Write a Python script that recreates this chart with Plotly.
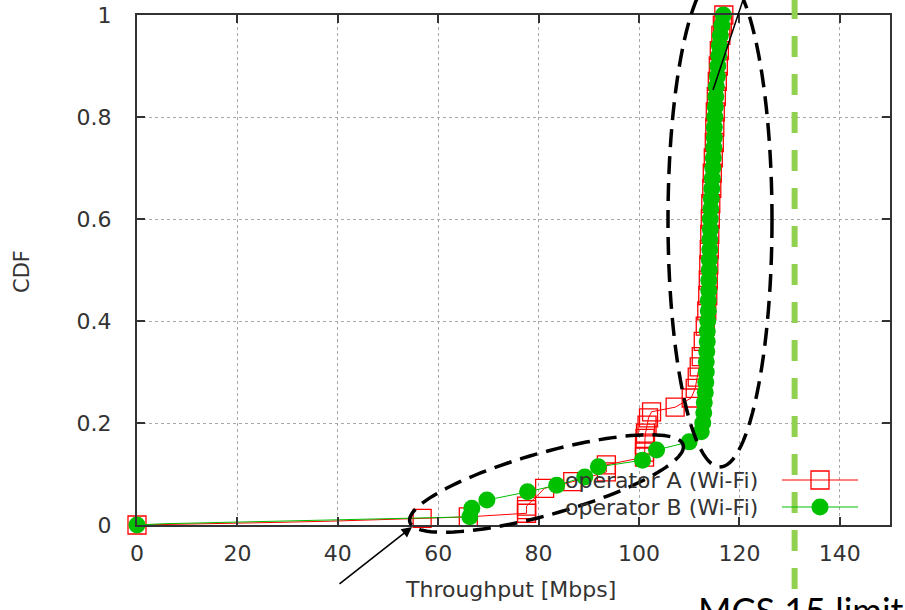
import numpy as np
import plotly.graph_objects as go

# ---------------- data ----------------
a_thr = [0, 16.6, 27.5, 38.5, 49.8, 56.8, 66.0, 77.6, 77.6, 77.6, 81.2, 86.8, 93.5, 93.5,
         101.1, 101.1, 101.1, 101.2, 101.3, 101.6, 101.9, 102.5, 107.2, 110.4,
         111.2, 111.6, 112.0, 112.4, 112.8, 113.2, 113.5, 113.7, 113.8, 113.9, 114.0, 114.1,
         114.2, 114.3, 114.5, 114.6, 114.8, 115.0, 115.1, 115.2, 115.4, 115.6, 115.8, 116.0,
         116.3, 116.6, 116.9]
a_cdf = [0, 0.0025, 0.005, 0.0075, 0.01, 0.013, 0.016, 0.023, 0.030, 0.037, 0.072, 0.085, 0.104, 0.118,
         0.133, 0.143, 0.157, 0.170, 0.180, 0.196, 0.210, 0.222, 0.231, 0.249,
         0.268, 0.29, 0.31, 0.33, 0.36, 0.39, 0.42, 0.45, 0.48, 0.51, 0.54, 0.57,
         0.60, 0.63, 0.66, 0.69, 0.72, 0.75, 0.78, 0.81, 0.84, 0.87, 0.90, 0.93,
         0.96, 0.98, 1.0]

b_thr = [0, 5.3, 16.6, 27.5, 38.5, 49.8, 66.3, 66.7, 69.7, 77.8, 83.6, 89.2, 91.9, 100.7,
         103.5, 110.0, 112.4, 112.7, 112.9, 113.0, 113.2, 113.3, 113.4, 113.4, 113.5, 113.6,
         113.6, 113.7, 113.8, 113.8, 113.9, 113.9, 114.0, 114.0, 114.1, 114.1, 114.2, 114.2,
         114.3, 114.4, 114.5, 114.6, 114.7, 114.8, 114.9, 115.0, 115.0, 115.1, 115.2, 115.3,
         115.4, 115.6, 115.7, 115.9, 116.0, 116.2, 116.5, 116.8]
b_cdf = [0, 0.0025, 0.005, 0.0075, 0.01, 0.0125, 0.016, 0.033, 0.049, 0.065, 0.078, 0.094, 0.114, 0.127,
         0.147, 0.163, 0.183, 0.20, 0.22, 0.24, 0.26, 0.28, 0.30, 0.32, 0.34, 0.36,
         0.38, 0.40, 0.42, 0.44, 0.46, 0.48, 0.50, 0.52, 0.54, 0.56, 0.58, 0.60,
         0.62, 0.64, 0.66, 0.68, 0.70, 0.72, 0.74, 0.76, 0.78, 0.80, 0.82, 0.84,
         0.86, 0.88, 0.90, 0.92, 0.94, 0.96, 0.98, 1.0]

series_names = ["operator A (Wi-Fi)", "operator B (Wi-Fi)"]
x_ticks = [0, 20, 40, 60, 80, 100, 120, 140]
y_ticks = [0, 0.2, 0.4, 0.6, 0.8, 1]
y_tick_labels = ["0", "0.2", "0.4", "0.6", "0.8", "1"]
x_title = "Throughput [Mbps]"
y_title = "CDF"
mcs15_limit = 131
mcs15_label = "MCS 15 limit"

# ---------------- layout geometry ----------------
W, H = 905, 610
L, R, T, B = 137, 890, 15, 525
X_MAX = 150

RED = "#ff0000"
GREEN = "#00c000"
TXT = "#333333"
FONT = "DejaVu Sans"


def pp(px, py):
    """pixel -> paper"""
    return (px - L) / (R - L), (B - py) / (B - T)


def ellipse_path(cx, cy, a, b, ang_deg, n=120):
    t = np.linspace(0, 2 * np.pi, n)
    ang = np.deg2rad(ang_deg)
    xs = cx + a * np.cos(t) * np.cos(ang) - b * np.sin(t) * np.sin(ang)
    ys = cy + a * np.cos(t) * np.sin(ang) + b * np.sin(t) * np.cos(ang)
    pts = [pp(x, y) for x, y in zip(xs, ys)]
    return "M " + " L ".join(f"{x:.5f},{y:.5f}" for x, y in pts) + " Z"


def marker_sizes(xs, size):
    xs = np.asarray(xs)
    return np.where((xs == 0) | (xs > 55), size, 0).tolist()


fig = go.Figure()
fig.add_trace(go.Scatter(
    x=a_thr, y=a_cdf, mode="lines+markers", name=series_names[0],
    line=dict(color=RED, width=1),
    marker=dict(symbol="square-open", size=marker_sizes(a_thr, 18), color=RED, opacity=1,
                line=dict(color=RED, width=1.3)),
    cliponaxis=False, showlegend=False))
fig.add_trace(go.Scatter(
    x=b_thr, y=b_cdf, mode="lines+markers", name=series_names[1],
    line=dict(color=GREEN, width=1),
    marker=dict(symbol="circle", size=marker_sizes(b_thr, 17), color=GREEN, opacity=1,
                line=dict(width=0)),
    cliponaxis=False, showlegend=False))

shapes = []
annotations = []

# MCS 15 limit line
xg = mcs15_limit / X_MAX
shapes.append(dict(type="line", xref="paper", yref="paper",
                   x0=xg, x1=xg, y0=pp(0, -2)[1], y1=pp(0, 590)[1],
                   line=dict(color="#92d050", width=6, dash="21px,17px")))

# dashed ellipses
shapes.append(dict(type="path", xref="paper", yref="paper",
                   path=ellipse_path(720, 220, 52, 247, 0),
                   line=dict(color="black", width=3.5, dash="18px,9px")))
shapes.append(dict(type="path", xref="paper", yref="paper",
                   path=ellipse_path(546.5, 483.5, 142, 31, -15.75),
                   line=dict(color="black", width=3.5, dash="18px,9px")))

# thin line at top
x0, y0 = pp(713, 90)
x1, y1 = pp(745, -6)
shapes.append(dict(type="line", xref="paper", yref="paper", x0=x0, y0=y0, x1=x1, y1=y1,
                   line=dict(color="black", width=1.5)))

# custom legend (gnuplot style: text then sample)
rows = [(480, RED, "rect"), (507, GREEN, "circle")]
for (py, col, kind), name in zip(rows, series_names):
    lx0, ly = pp(782, py)
    lx1, _ = pp(858, py)
    shapes.append(dict(type="line", xref="paper", yref="paper", x0=lx0, x1=lx1, y0=ly, y1=ly,
                       line=dict(color=col, width=1)))
    if kind == "rect":
        sx0, sy0 = pp(811, py + 9)
        sx1, sy1 = pp(829, py - 9)
        shapes.append(dict(type="rect", xref="paper", yref="paper", x0=sx0, x1=sx1, y0=sy0, y1=sy1,
                           line=dict(color=col, width=1.3), fillcolor="rgba(0,0,0,0)"))
    else:
        sx0, sy0 = pp(811.5, py + 8.5)
        sx1, sy1 = pp(828.5, py - 8.5)
        shapes.append(dict(type="circle", xref="paper", yref="paper", x0=sx0, x1=sx1, y0=sy0, y1=sy1,
                           line=dict(color=col, width=0), fillcolor=col))
    tx, ty = pp(760, py)
    annotations.append(dict(x=tx, y=ty, xref="paper", yref="paper", text=name, showarrow=False,
                            xanchor="right", yanchor="middle",
                            font=dict(family=FONT, size=22, color=TXT)))

# axis titles
tx, ty = pp(22, 272)
annotations.append(dict(x=tx, y=ty, xref="paper", yref="paper", text=y_title, showarrow=False,
                        textangle=-90, xanchor="center", yanchor="middle",
                        font=dict(family=FONT, size=21, color=TXT)))
tx, ty = pp(510, 589)
annotations.append(dict(x=tx, y=ty, xref="paper", yref="paper", text=x_title, showarrow=False,
                        xanchor="center", yanchor="middle",
                        font=dict(family=FONT, size=22, color=TXT)))

# MCS label
tx, ty = pp(696, 586)
annotations.append(dict(x=tx, y=ty, xref="paper", yref="paper", text=mcs15_label, showarrow=False,
                        xanchor="left", yanchor="top",
                        font=dict(family="Lato", size=36, color="black")))

# lower arrow
tx, ty = pp(412, 527)
annotations.append(dict(x=tx, y=ty, xref="paper", yref="paper", text="", showarrow=True,
                        ax=-74, ay=58, arrowhead=2, arrowsize=1.3, arrowwidth=1.6,
                        arrowcolor="black"))

fig.update_layout(
    width=W, height=H,
    margin=dict(l=L, r=W - R, t=T, b=H - B, pad=0, autoexpand=False),
    paper_bgcolor="white", plot_bgcolor="white",
    shapes=shapes, annotations=annotations,
    showlegend=False,
    xaxis=dict(range=[0, X_MAX], tickvals=x_ticks, ticks="inside", ticklen=8, tickwidth=1.5,
               tickcolor=TXT, showline=True, linecolor=TXT, linewidth=2, mirror="ticks",
               showgrid=True, gridcolor="#a8a8a8", griddash="dot", gridwidth=1, zeroline=False,
               automargin=False,
               tickfont=dict(family=FONT, size=22, color=TXT), ticklabelstandoff=8),
    yaxis=dict(range=[0, 1], tickvals=y_ticks, ticktext=y_tick_labels, ticks="inside", ticklen=8,
               tickwidth=1.5, tickcolor=TXT, showline=True, linecolor=TXT, linewidth=2,
               mirror="ticks", showgrid=True, gridcolor="#a8a8a8", griddash="dot", gridwidth=1,
               zeroline=False, automargin=False, tickfont=dict(family=FONT, size=22, color=TXT),
               ticklabelstandoff=19),
)

fig.write_html("out.html", config={"displayModeBar": False},
               post_script="document.body.style.margin='0';document.body.style.overflow='hidden';")
